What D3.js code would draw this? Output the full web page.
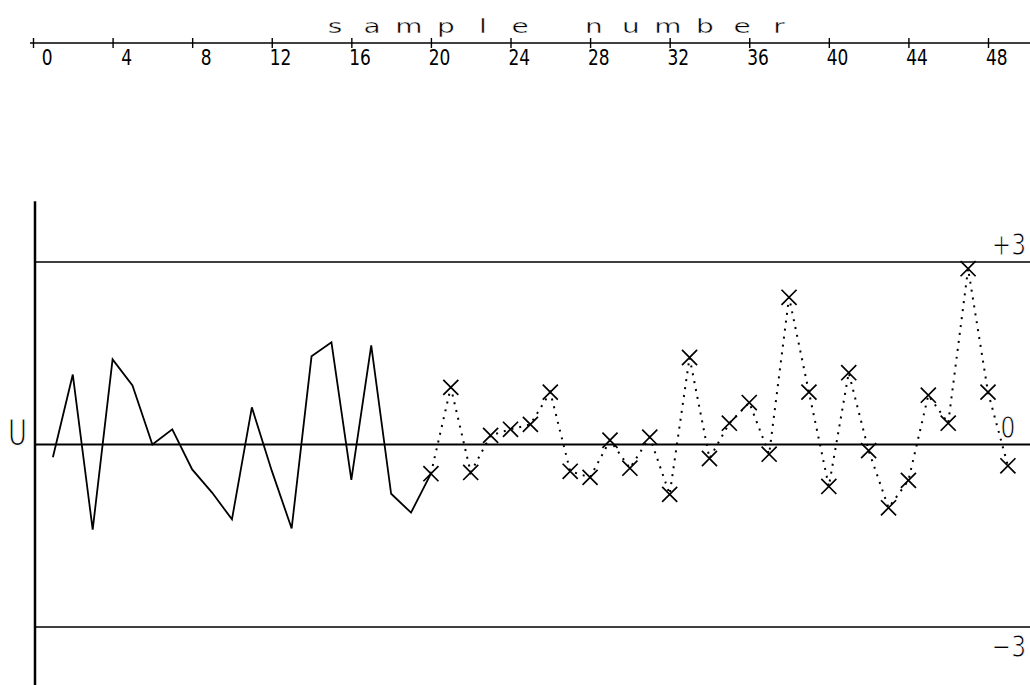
<!DOCTYPE html>
<html>
<head>
<meta charset="utf-8">
<script src="https://cdn.jsdelivr.net/npm/d3@7"></script>
<style>
  html, body { margin: 0; padding: 0; background: #fff; }
  svg { display: block; }
  text { font-family: "DejaVu Sans", sans-serif; fill: #000; }
</style>
</head>
<body>
<svg id="chart"></svg>
<script>
// ---- data ----
const sampleTicks = [0, 4, 8, 12, 16, 20, 24, 28, 32, 36, 40, 44, 48];
const axisTitle = "sample number";
const yLabel = "U";

const limitValues = [3, 0, -3];
const limitLabels = ["+3", "0", "\u22123"];

// first block, solid line
const solidSamples = [1, 2, 3, 4, 5, 6, 7, 8, 9, 10, 11, 12, 13, 14, 15, 16, 17, 18, 19, 20];
const solidValues = [-0.21, 1.15, -1.40, 1.40, 0.97, 0.00, 0.25, -0.41, -0.79, -1.23,
                     0.61, -0.43, -1.38, 1.45, 1.68, -0.58, 1.63, -0.81, -1.12, -0.48];

// second block, dotted line with x markers
const dottedSamples = [20, 21, 22, 23, 24, 25, 26, 27, 28, 29, 30, 31, 32, 33, 34,
                       35, 36, 37, 38, 39, 40, 41, 42, 43, 44, 45, 46, 47, 48, 49];
const dottedValues = [-0.48, 0.94, -0.46, 0.15, 0.25, 0.33, 0.86, -0.44, -0.54, 0.07,
                      -0.39, 0.12, -0.82, 1.43, -0.23, 0.35, 0.69, -0.16, 2.42, 0.86,
                      -0.69, 1.18, -0.10, -1.04, -0.59, 0.81, 0.35, 2.89, 0.86, -0.35];

// ---- layout ----
const width = 1030, height = 685;
const axisY = 43;        // top sample axis
const plotLeft = 35;     // vertical U axis

const svg = d3.select('#chart')
    .attr('width', width)
    .attr('height', height);

const x = d3.scaleLinear().domain([0, 48]).range([33, 988]);
const y = d3.scaleLinear().domain([-3, 3]).range([627, 262]);

// Top axis: sample number
const xAxis = d3.axisBottom(x).tickValues(sampleTicks).tickSize(5).tickSizeOuter(0);
const xAxisG = svg.append('g')
    .attr('transform', `translate(0,${axisY})`)
    .call(xAxis)
    .attr('font-size', null)
    .attr('font-family', null);

xAxisG.select('.domain').remove();
xAxisG.insert('line', ':first-child')
    .attr('x1', 30).attr('x2', width)
    .attr('stroke', '#000')
    .attr('stroke-width', 1.4);

xAxisG.selectAll('.tick line')
    .attr('y1', -5).attr('y2', 5)
    .attr('stroke', '#000')
    .attr('stroke-width', 1.4);

xAxisG.selectAll('.tick text')
    .attr('text-anchor', 'end')
    .attr('x', 19)
    .attr('dy', null)
    .attr('y', 22 / 1.2)
    .attr('transform', 'scale(1,1.2)')
    .style('font-size', '17px')
    .attr('fill', '#000');

// Axis title, one character per plotter cell (wide plotter lettering)
const titleScale = 1.4;
svg.append('g')
    .attr('transform', `translate(0,33) scale(${titleScale},1)`)
  .append('text')
    .attr('x', axisTitle.split('').map((c, i) => (335 + i * 37) / titleScale).join(' '))
    .attr('y', 0)
    .attr('text-anchor', 'middle')
    .style('font-size', '20px')
    .attr('stroke', '#fff')
    .attr('stroke-width', 0.4)
    .text(axisTitle);

// Vertical axis
svg.append('line')
    .attr('x1', plotLeft).attr('x2', plotLeft)
    .attr('y1', y(4)).attr('y2', height)
    .attr('stroke', '#000')
    .attr('stroke-width', 2.5);

// Control limit lines
svg.append('g')
  .selectAll('line')
  .data(limitValues)
  .join('line')
    .attr('x1', plotLeft).attr('x2', width)
    .attr('y1', d => y(d)).attr('y2', d => y(d))
    .attr('stroke', '#000')
    .attr('stroke-width', d => d === 0 ? 2 : 1.5);

// Solid line block
const line = d3.line()
    .x(d => x(d[0]))
    .y(d => y(d[1]));

svg.append('path')
    .datum(d3.zip(solidSamples, solidValues))
    .attr('d', line)
    .attr('fill', 'none')
    .attr('stroke', '#000')
    .attr('stroke-width', 1.8)
    .attr('stroke-linejoin', 'miter');

// Dotted block
const dotted = d3.zip(dottedSamples, dottedValues);
svg.append('path')
    .datum(dotted)
    .attr('d', line)
    .attr('fill', 'none')
    .attr('stroke', '#000')
    .attr('stroke-width', 2)
    .attr('stroke-dasharray', '2,6');

svg.append('g')
  .selectAll('path')
  .data(dotted)
  .join('path')
    .attr('transform', d => `translate(${x(d[0])},${y(d[1])})`)
    .attr('d', d3.symbol(d3.symbolX, 150))
    .attr('fill', 'none')
    .attr('stroke', '#000')
    .attr('stroke-width', 1.7);

// Limit labels at the right
const labelPos = [
  {x: 1026, y: 255, anchor: 'end'},
  {x: 1008, y: 438, anchor: 'middle'},
  {x: 1026, y: 657, anchor: 'end'}
];
limitLabels.forEach((t, i) => {
  svg.append('g')
      .attr('transform', `translate(${labelPos[i].x},${labelPos[i].y}) scale(0.75,1)`)
    .append('text')
      .attr('text-anchor', labelPos[i].anchor)
      .style('font-size', '31px')
      .attr('stroke', '#fff')
      .attr('stroke-width', 1.0)
      .text(t);
});

// Y label
svg.append('g')
    .attr('transform', 'translate(17.5,445) scale(0.72,1)')
  .append('text')
    .attr('text-anchor', 'middle')
    .style('font-size', '36px')
    .attr('stroke', '#fff')
    .attr('stroke-width', 1.2)
    .text(yLabel);
</script>
</body>
</html>
